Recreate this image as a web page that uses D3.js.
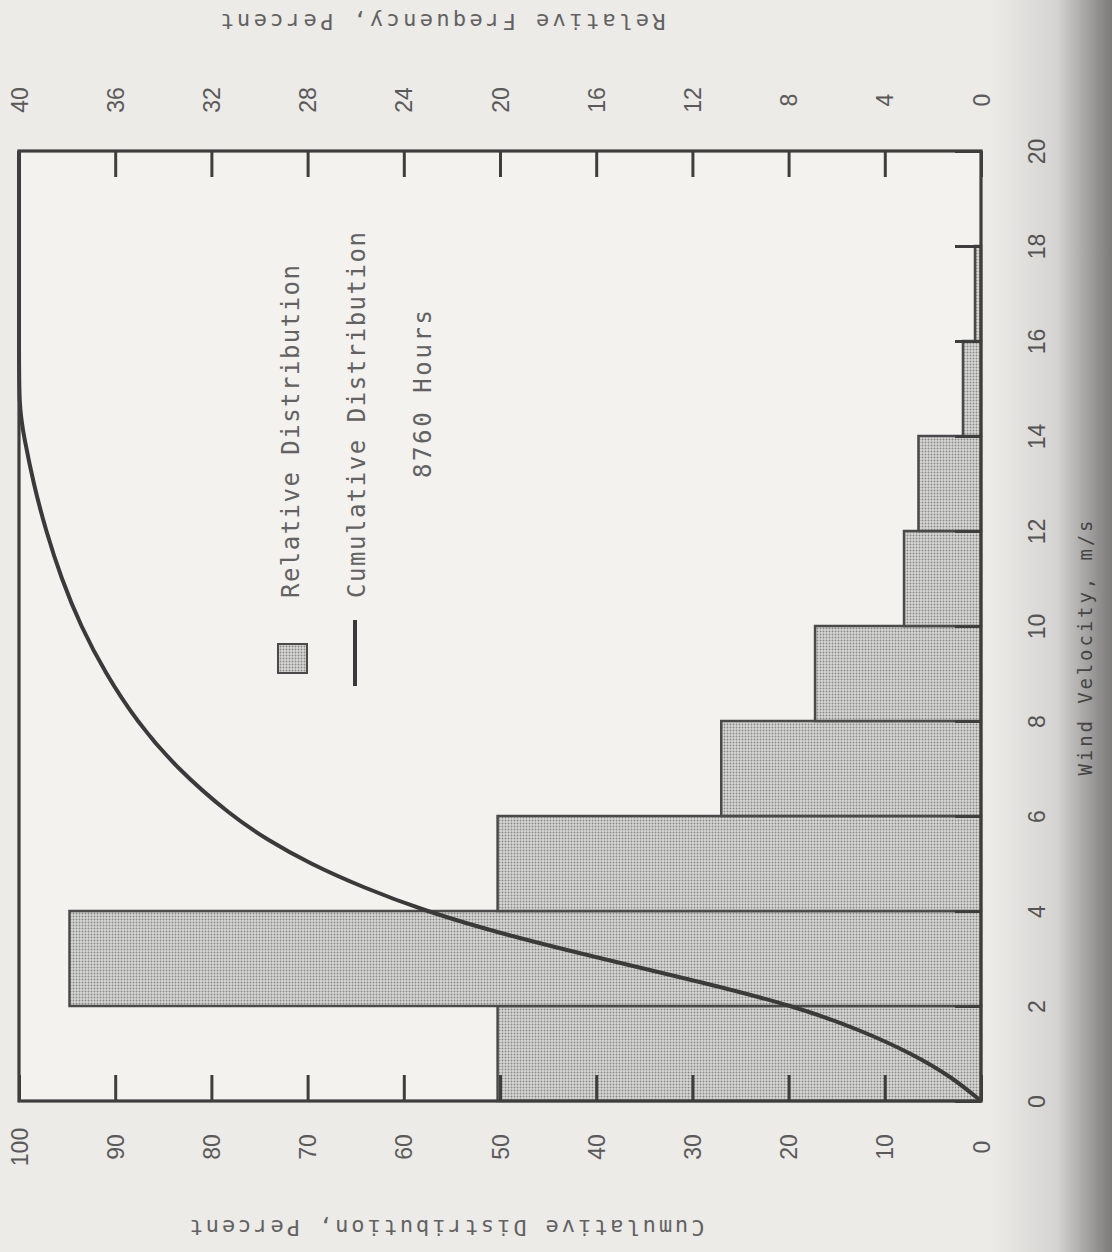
<!DOCTYPE html>
<html>
<head>
<meta charset="utf-8">
<script src="https://cdn.jsdelivr.net/npm/d3@7"></script>
<style>
  html, body { margin: 0; padding: 0; background: #ecebe8; }
  svg { display: block; }
  .tick text { font-family: "Liberation Sans", Arial, sans-serif; fill: #5a5a5a; }
  .mono { font-family: "DejaVu Sans Mono", "Liberation Mono", monospace; fill: #626262; }
</style>
</head>
<body>
<svg id="chart" width="1112" height="1252"></svg>
<script>
// Wind velocity bins (m/s) and relative frequency of each bin (percent of 8760 hours)
const binStarts = [0, 2, 4, 6, 8, 10, 12, 14, 16];
const binEnds   = [2, 4, 6, 8, 10, 12, 14, 16, 18];
const relFreq   = [20.1, 37.9, 20.1, 10.8, 6.9, 3.2, 2.6, 0.75, 0.25];

// Cumulative distribution curve: velocity (m/s) vs cumulative percent
const cumVelocity = [0, 0.5, 1, 1.5, 2, 2.5, 3, 3.5, 4, 4.5, 5, 5.5, 6, 7, 8, 9, 10, 11, 12, 13, 14, 14.6, 16, 18, 20];
const cumPercent  = [0, 3, 7.2, 12.6, 19.4, 29, 39.5, 49.5, 57.8, 64.3, 69.8, 74.2, 77.9, 83.6, 87.8, 91, 93.6, 95.6, 97.2, 98.5, 99.5, 100, 100, 100, 100];

// Tick values
const velocityTicks = [0, 2, 4, 6, 8, 10, 12, 14, 16, 18, 20];
const cumulativeTicks = [0, 10, 20, 30, 40, 50, 60, 70, 80, 90, 100];
const relativeTicks = [0, 4, 8, 12, 16, 20, 24, 28, 32, 36, 40];

const svg = d3.select("#chart");

// The figure is printed turned a quarter turn: velocity runs bottom-to-top,
// percent axes run right-to-left.
const L = 19, R = 981, T = 151, B = 1101;
const vy = d3.scaleLinear().domain([0, 20]).range([B, T]);
const cx = d3.scaleLinear().domain([0, 100]).range([R, L]);
const rx = d3.scaleLinear().domain([0, 40]).range([R, L]);

// Scanner shading along the right edge
const defs = svg.append("defs");
const grad = defs.append("linearGradient").attr("id", "edgeShade")
  .attr("x1", "0").attr("x2", "1").attr("y1", "0").attr("y2", "0");
grad.append("stop").attr("offset", "0").attr("stop-color", "#000").attr("stop-opacity", 0);
grad.append("stop").attr("offset", "0.55").attr("stop-color", "#000").attr("stop-opacity", 0.1);
grad.append("stop").attr("offset", "1").attr("stop-color", "#000").attr("stop-opacity", 0.48);

// Stipple fill for the histogram
const pat = defs.append("pattern").attr("id", "stipple")
  .attr("width", 3).attr("height", 3).attr("patternUnits", "userSpaceOnUse");
pat.append("rect").attr("width", 3).attr("height", 3).attr("fill", "#d8d8d6");
pat.append("circle").attr("cx", 1.5).attr("cy", 1.5).attr("r", 0.95).attr("fill", "#888886");

// Plot background
svg.append("rect").attr("x", L).attr("y", T).attr("width", R - L).attr("height", B - T)
  .attr("fill", "#f3f2ef");

// Histogram bars
svg.append("g").selectAll("rect")
  .data(relFreq)
  .join("rect")
  .attr("x", d => rx(d))
  .attr("y", (d, i) => vy(binEnds[i]))
  .attr("width", d => rx(0) - rx(d))
  .attr("height", (d, i) => vy(binStarts[i]) - vy(binEnds[i]))
  .attr("fill", "url(#stipple)")
  .attr("stroke", "#4a4a4a")
  .attr("stroke-width", 2.5);

// Cumulative curve
const cumData = cumVelocity.map((v, i) => ({ v, c: cumPercent[i] }));
svg.append("path")
  .datum(cumData)
  .attr("fill", "none")
  .attr("stroke", "#3a3a3a")
  .attr("stroke-width", 4)
  .attr("d", d3.line().x(d => cx(d.c)).y(d => vy(d.v)).curve(d3.curveBasis));

// Axes (inward ticks, labels turned a quarter turn)
function styleAxis(g, lx, ly) {
  g.select(".domain").remove();
  g.selectAll(".tick line").attr("stroke", "#3e3e3e").attr("stroke-width", 3);
  g.selectAll(".tick text")
    .attr("x", null).attr("y", null).attr("dy", "0.35em")
    .attr("text-anchor", "middle")
    .attr("transform", `translate(${lx},${ly}) rotate(-90)`)
    .style("font-size", "23px");
}

svg.append("g").attr("transform", `translate(0,${B})`)
  .call(d3.axisBottom(cx).tickValues(cumulativeTicks).tickSize(-26).tickFormat(d3.format("d")))
  .call(g => styleAxis(g, 0, 46));

svg.append("g").attr("transform", `translate(0,${T})`)
  .call(d3.axisTop(rx).tickValues(relativeTicks).tickSize(-26).tickFormat(d3.format("d")))
  .call(g => styleAxis(g, 0, -51));

svg.append("g").attr("transform", `translate(${R},0)`)
  .call(d3.axisRight(vy).tickValues(velocityTicks).tickSize(-26).tickFormat(d3.format("d")))
  .call(g => styleAxis(g, 56, 0));

// Frame
svg.append("rect").attr("x", L).attr("y", T).attr("width", R - L).attr("height", B - T)
  .attr("fill", "none").attr("stroke", "#3e3e3e").attr("stroke-width", 3.2);

// Axis titles
svg.append("text").attr("class", "mono")
  .attr("transform", `translate(${1085},${648}) rotate(-90)`)
  .attr("text-anchor", "middle").attr("dy", "0.35em")
  .attr("textLength", 255).attr("lengthAdjust", "spacing")
  .style("font-size", "19px")
  .text("Wind Velocity, m/s");

svg.append("text").attr("class", "mono")
  .attr("transform", `translate(${443},${22}) rotate(180)`)
  .attr("text-anchor", "middle").attr("dy", "0.35em")
  .attr("textLength", 445).attr("lengthAdjust", "spacing")
  .style("font-size", "22px")
  .text("Relative Frequency, Percent");

svg.append("text").attr("class", "mono")
  .attr("transform", `translate(${447},${1228}) rotate(180)`)
  .attr("text-anchor", "middle").attr("dy", "0.35em")
  .attr("textLength", 515).attr("lengthAdjust", "spacing")
  .style("font-size", "22px")
  .text("Cumulative Distribution, Percent");

// Legend
svg.append("rect").attr("x", 278).attr("y", 644).attr("width", 29).attr("height", 29)
  .attr("fill", "url(#stipple)").attr("stroke", "#4a4a4a").attr("stroke-width", 2);
svg.append("line").attr("x1", 355).attr("x2", 355).attr("y1", 620).attr("y2", 686)
  .attr("stroke", "#3a3a3a").attr("stroke-width", 4);

const legendText = [
  { t: "Relative Distribution", x: 291, y: 598, len: 333 },
  { t: "Cumulative Distribution", x: 357, y: 598, len: 366 },
  { t: "8760 Hours", x: 423, y: 478, len: 168 }
];
svg.append("g").selectAll("text")
  .data(legendText)
  .join("text")
  .attr("class", "mono")
  .attr("transform", d => `translate(${d.x},${d.y}) rotate(-90)`)
  .attr("dy", "0.35em")
  .attr("textLength", d => d.len).attr("lengthAdjust", "spacing")
  .style("font-size", "24px")
  .text(d => d.t);

// Edge shading on top
svg.append("rect").attr("x", 990).attr("y", 0).attr("width", 122).attr("height", 1252)
  .attr("fill", "url(#edgeShade)");
</script>
</body>
</html>
